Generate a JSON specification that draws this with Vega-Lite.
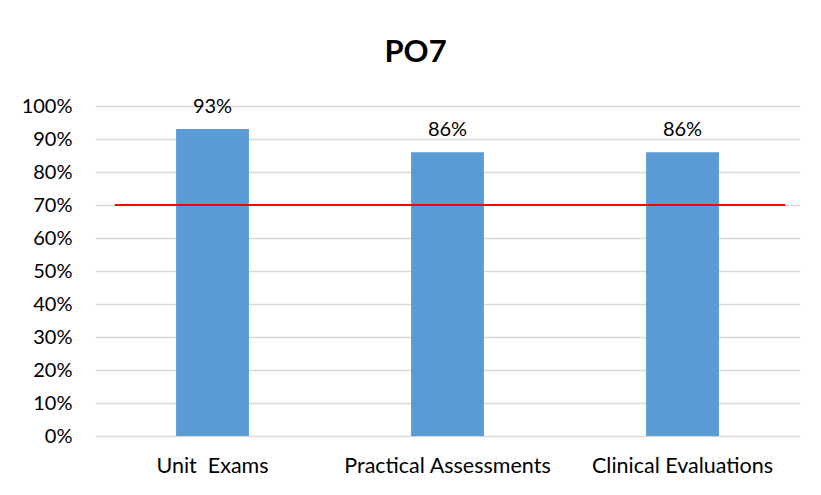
{
  "$schema": "https://vega.github.io/schema/vega-lite/v6.json",
  "width": 705,
  "height": 330,
  "autosize": "none",
  "padding": {"left": 95, "top": 106, "right": 21, "bottom": 59},
  "background": "white",
  "config": {"view": {"stroke": null}, "font": "Lato"},
  "title": {"text": "PO7", "font": "Lato", "fontSize": 31, "fontWeight": "bold", "color": "#000000", "anchor": "middle", "frame": "group", "dx": -32, "offset": 3, "baseline": "alphabetic"},
  "datasets": {
    "scores": [
      {"category": "Unit\u00a0 Exams", "score": 0.93},
      {"category": "Practical Assessments", "score": 0.86},
      {"category": "Clinical Evaluations", "score": 0.86}
    ],
    "target": [
      {"start": 0.028, "end": 0.979, "target": 0.7}
    ]
  },
  "layer": [
    {
      "data": {"name": "scores"},
      "encoding": {
        "x": {"field": "category", "type": "nominal", "sort": null,
              "scale": {"paddingInner": 0, "paddingOuter": 0},
              "axis": {"title": null, "labelAngle": 0, "domain": false, "ticks": false, "labelPadding": 19, "labelFont": "Lato", "labelFontSize": 21.5, "labelColor": "#000000", "labelLimit": 0}},
        "y": {"field": "score", "type": "quantitative",
              "scale": {"domain": [0, 1], "nice": false},
              "axis": {"title": null, "values": [0, 0.1, 0.2, 0.3, 0.4, 0.5, 0.6, 0.7, 0.8, 0.9, 1], "format": ".0%", "grid": true, "gridColor": "#d9d9d9", "gridWidth": 1.3, "domain": false, "ticks": false, "labelPadding": 23, "labelFont": "Lato", "labelFontSize": 20, "labelColor": "#000000", "labelOverlap": false}}
      },
      "layer": [
        {"mark": {"type": "bar", "color": "#5B9BD5", "width": {"band": 0.31}}},
        {
          "mark": {"type": "text", "dy": -16, "baseline": "alphabetic", "font": "Lato", "fontSize": 20, "color": "#000000"},
          "encoding": {"text": {"field": "score", "type": "quantitative", "format": ".0%"}}
        }
      ]
    },
    {
      "data": {"name": "target"},
      "mark": {"type": "rule", "color": "#FF0000", "strokeWidth": 2},
      "encoding": {
        "x": {"field": "start", "type": "quantitative", "scale": {"domain": [0, 1], "nice": false}, "axis": null},
        "x2": {"field": "end"},
        "y": {"field": "target", "type": "quantitative",
              "axis": {"title": null, "values": [0, 0.1, 0.2, 0.3, 0.4, 0.5, 0.6, 0.7, 0.8, 0.9, 1], "format": ".0%", "grid": true, "gridColor": "#d9d9d9", "gridWidth": 1.3, "domain": false, "ticks": false, "labelPadding": 23, "labelFont": "Lato", "labelFontSize": 20, "labelColor": "#000000", "labelOverlap": false}}
      }
    }
  ],
  "resolve": {"scale": {"x": "independent"}}
}
